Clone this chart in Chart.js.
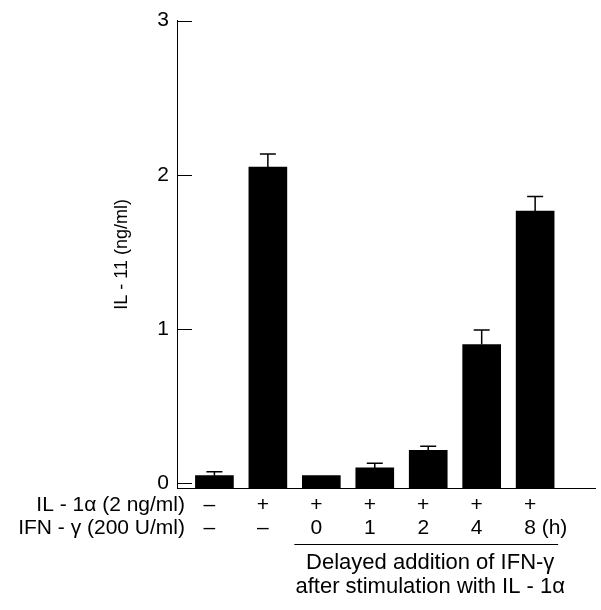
<!DOCTYPE html>
<html>
<head>
<meta charset="utf-8">
<script src="https://cdn.jsdelivr.net/npm/chart.js@4"></script>
<style>
  body { margin: 0; background: #fff; }
</style>
</head>
<body>
<canvas id="barChart" width="601" height="610"></canvas>
<script>
var values = [0.05, 2.05, 0.05, 0.10, 0.215, 0.90, 1.765];
var errors = [0.025, 0.085, 0, 0.03, 0.025, 0.095, 0.095];
var il1Row = ['\u2013', '+', '+', '+', '+', '+', '+'];
var ifnRow = ['\u2013', '\u2013', '0', '1', '2', '4', '8 (h)'];
var rowTitles = ['IL - 1\u03b1 (2 ng/ml)', 'IFN - \u03b3 (200 U/ml)'];
var yTicks = [0, 1, 2, 3];
var bracketText = ['Delayed addition of IFN-\u03b3', 'after stimulation with IL - 1\u03b1'];

var FONT = '"Liberation Sans", Arial, sans-serif';
var Y_MIN = -0.03;

var points = values.map(function (v, i) { return { x: i, y: v }; });

var extras = {
    id: 'extras',
    afterDatasetsDraw: function (chart) {
        var ctx = chart.ctx;
        var x = chart.scales.x;
        var y = chart.scales.y;
        ctx.save();
        ctx.strokeStyle = '#000';
        ctx.fillStyle = '#000';

        // error bars (upper only)
        ctx.lineWidth = 1.5;
        values.forEach(function (v, i) {
            if (!errors[i]) return;
            var px = x.getPixelForValue(i);
            var base = y.getPixelForValue(v);
            var top = y.getPixelForValue(v + errors[i]);
            ctx.beginPath();
            ctx.moveTo(px, base);
            ctx.lineTo(px, top);
            ctx.moveTo(px - 8, top);
            ctx.lineTo(px + 8, top);
            ctx.stroke();
        });

        // inward tick marks
        ctx.lineWidth = 1;
        yTicks.forEach(function (t) {
            var py = Math.round(y.getPixelForValue(t)) + 0.5;
            ctx.beginPath();
            ctx.moveTo(x.left, py);
            ctx.lineTo(x.left + 15, py);
            ctx.stroke();
        });

        // treatment rows
        ctx.font = '21px ' + FONT;
        ctx.textBaseline = 'middle';
        ctx.textAlign = 'right';
        ctx.fillText(rowTitles[0], x.left + 8, y.bottom + 17);
        ctx.fillText(rowTitles[1], x.left + 8, y.bottom + 40);
        ctx.textAlign = 'center';
        il1Row.forEach(function (s, i) {
            ctx.fillText(s, x.getPixelForValue(i) - 5, y.bottom + 17);
        });
        ifnRow.forEach(function (s, i) {
            var px = x.getPixelForValue(i) - 5;
            if (s === '8 (h)') {
                ctx.textAlign = 'left';
                ctx.fillText(s, px - 6, y.bottom + 40);
                ctx.textAlign = 'center';
            } else {
                ctx.fillText(s, px, y.bottom + 40);
            }
        });

        // bracket for delayed addition
        var bx0 = x.getPixelForValue(2) - 27;
        var bx1 = x.getPixelForValue(6) + 23;
        var by = Math.round(y.bottom + 56) + 0.5;
        ctx.lineWidth = 1;
        ctx.beginPath();
        ctx.moveTo(bx0, by);
        ctx.lineTo(bx1, by);
        ctx.stroke();
        var cx = (bx0 + bx1) / 2 + 4;
        ctx.font = '22px ' + FONT;
        ctx.fillText(bracketText[0], cx, y.bottom + 75);
        ctx.fillText(bracketText[1], cx, y.bottom + 99);

        ctx.restore();
    }
};

new Chart(document.getElementById('barChart').getContext('2d'), {
    type: 'bar',
    data: {
        datasets: [{
            data: points,
            backgroundColor: '#000',
            borderWidth: 0,
            barThickness: 38,
            base: Y_MIN
        }]
    },
    options: {
        responsive: false,
        animation: false,
        layout: { padding: { left: 0, top: 18, right: 6, bottom: 122 } },
        plugins: {
            legend: { display: false },
            tooltip: { enabled: false }
        },
        scales: {
            x: {
                type: 'linear',
                offset: false,
                min: -0.7,
                max: 7.12,
                grid: { display: false, drawTicks: false },
                border: { display: true, color: '#000', width: 1 },
                ticks: { display: false },
                afterFit: function (s) { s.height = 0; }
            },
            y: {
                min: Y_MIN,
                max: 3,
                grid: { display: false, drawTicks: false },
                border: { display: true, color: '#000', width: 1 },
                afterBuildTicks: function (s) {
                    s.ticks = yTicks.map(function (v) { return { value: v }; });
                },
                ticks: {
                    color: '#000',
                    padding: 8,
                    font: { family: FONT, size: 21 }
                },
                title: {
                    display: true,
                    text: 'IL - 11 (ng/ml)',
                    color: '#000',
                    padding: { top: 111, bottom: 0 },
                    font: { family: FONT, size: 18 }
                },
                afterFit: function (s) { s.width = 177; }
            }
        }
    },
    plugins: [extras]
});
</script>
</body>
</html>
